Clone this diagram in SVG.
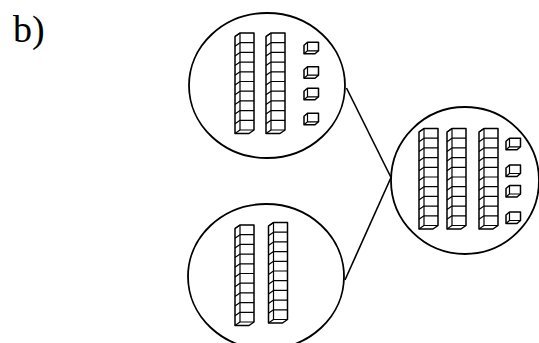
<svg xmlns="http://www.w3.org/2000/svg" width="539" height="343" viewBox="0 0 539 343">
<style>
.bubble{fill:none;stroke:#000;stroke-width:1.8}
.edge{fill:none;stroke:#000;stroke-width:1.6}
.blk{fill:#fff;stroke:#000;stroke-width:1.5;stroke-linejoin:round}
.inner{fill:none;stroke:#000;stroke-width:1.2}
.label{font-family:"Liberation Serif","DejaVu Serif",serif;font-size:38px;fill:#000}
</style>
<defs>
<g id="rod">
<path class="blk" d="M0,0 H14 V97 L9,100.5 H-5 V3.5 Z"/>
<path class="inner" d="M0,0 V97 H14 M0,9.7 H14 M0,19.4 H14 M0,29.1 H14 M0,38.8 H14 M0,48.5 H14 M0,58.2 H14 M0,67.9 H14 M0,77.6 H14 M0,87.3 H14"/>
<path class="inner" stroke-width="1.4" d="M0,0 L-5,3.5 M0,9.7 L-5,13.2 M0,19.4 L-5,22.9 M0,29.1 L-5,32.6 M0,38.8 L-5,42.3 M0,48.5 L-5,52 M0,58.2 L-5,61.7 M0,67.9 L-5,71.4 M0,77.6 L-5,81.1 M0,87.3 L-5,90.8 M0,97 L-5,100.5"/>
</g>
<g id="cube">
<path class="blk" stroke-width="1.8" d="M0,0 H11 V8.5 L7.5,11.5 H-3.5 V3 Z"/>
<path class="inner" stroke-width="1.4" d="M0,0 V8.5 H11 M0,8.5 L-3.5,11.5"/>
</g>
</defs>
<text class="label" x="13" y="42">b)</text>
<g id="connectors">
<line class="edge" x1="346.5" y1="88" x2="391" y2="177.5"/>
<line class="edge" x1="391" y1="177.5" x2="345" y2="280"/>
</g>
<g id="node-top">
<ellipse class="bubble" cx="267" cy="85.5" rx="78" ry="72.5"/>
<use href="#rod" x="240" y="33"/>
<use href="#rod" x="271" y="33"/>
<use href="#cube" x="307.5" y="42.3"/>
<use href="#cube" x="307.5" y="66.7"/>
<use href="#cube" x="307.5" y="88.3"/>
<use href="#cube" x="307.5" y="113.3"/>
</g>
<g id="node-bottom">
<ellipse class="bubble" cx="266" cy="276.5" rx="78" ry="72.5"/>
<use href="#rod" x="240" y="225"/>
<use href="#rod" x="273.5" y="222.5"/>
</g>
<g id="node-right">
<ellipse class="bubble" cx="465" cy="180.5" rx="74" ry="73.5"/>
<use href="#rod" x="424" y="128.5"/>
<use href="#rod" x="452" y="128.5"/>
<use href="#rod" x="484" y="128.5"/>
<use href="#cube" x="509.5" y="138.3"/>
<use href="#cube" x="509.5" y="165"/>
<use href="#cube" x="509.5" y="185.5"/>
<use href="#cube" x="509.5" y="212"/>
</g>
</svg>
